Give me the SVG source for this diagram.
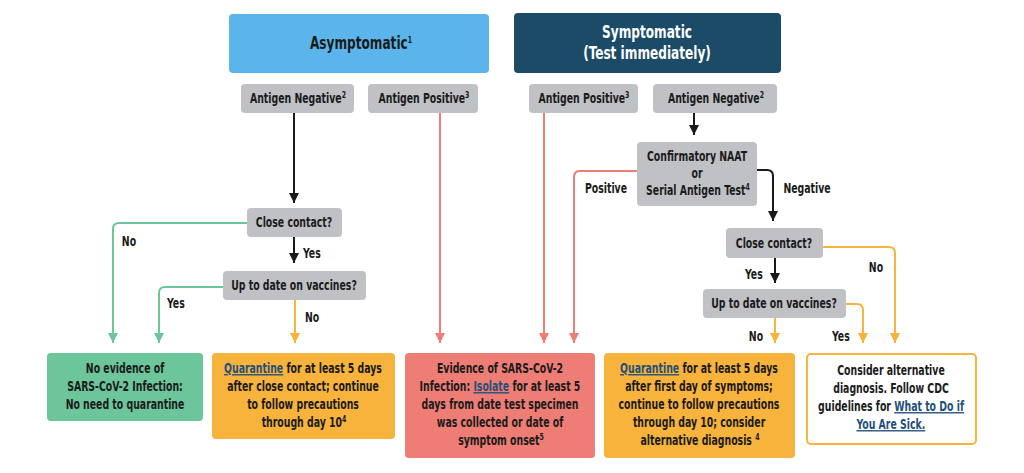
<svg xmlns="http://www.w3.org/2000/svg" width="1024" height="473" viewBox="0 0 1024 473">
<defs>
<style>
text{font-family:"Liberation Sans Narrow","DejaVu Sans Condensed","Liberation Sans",sans-serif;font-weight:bold;font-size:13.5px;fill:#1a1a1a;text-anchor:middle;transform-box:fill-box;transform-origin:center;transform:scaleX(0.77)}
.hdr{font-size:17.5px}
.wh{fill:#ffffff}
.sup{font-size:9px}
.lnk{fill:#1f4f7a;text-decoration:underline}
.grey{fill:#bfc1c5}
.c{fill:none;stroke-width:2;stroke-linejoin:round}
.k{stroke:#1a1a1a}
.g{stroke:#6cc59b}
.r{stroke:#ee7d75}
.o{stroke:#f8b33d}
</style>
<marker id="ak" viewBox="0 0 10 10" refX="10" refY="5" markerWidth="5" markerHeight="5" orient="auto" markerUnits="strokeWidth"><path d="M0,0L10,5L0,10z" fill="#1a1a1a"/></marker>
<marker id="ag" viewBox="0 0 10 10" refX="10" refY="5" markerWidth="5" markerHeight="5" orient="auto" markerUnits="strokeWidth"><path d="M0,0L10,5L0,10z" fill="#6cc59b"/></marker>
<marker id="ar" viewBox="0 0 10 10" refX="10" refY="5" markerWidth="5" markerHeight="5" orient="auto" markerUnits="strokeWidth"><path d="M0,0L10,5L0,10z" fill="#ee7d75"/></marker>
<marker id="ao" viewBox="0 0 10 10" refX="10" refY="5" markerWidth="5" markerHeight="5" orient="auto" markerUnits="strokeWidth"><path d="M0,0L10,5L0,10z" fill="#f8b33d"/></marker>
</defs>
<rect width="1024" height="473" fill="#ffffff"/>

<g id="connectors">
<path class="c k" d="M294,113V203" marker-end="url(#ak)"/>
<path class="c k" d="M294,237V263" marker-end="url(#ak)"/>
<path class="c o" d="M295,300V343" marker-end="url(#ao)"/>
<path class="c g" d="M247,223H119Q113,223 113,229V343" marker-end="url(#ag)"/>
<path class="c g" d="M223,287H165Q159,287 159,293V343" marker-end="url(#ag)"/>
<path class="c r" d="M440,113V343" marker-end="url(#ar)"/>
<path class="c r" d="M544,113V343" marker-end="url(#ar)"/>
<path class="c r" d="M637,171H580Q574,171 574,177V343" marker-end="url(#ar)"/>
<path class="c k" d="M694,113V135" marker-end="url(#ak)"/>
<path class="c k" d="M757,170H767Q773,170 773,176V221" marker-end="url(#ak)"/>
<path class="c k" d="M775,258V283" marker-end="url(#ak)"/>
<path class="c o" d="M823,247H889Q895,247 895,253V343" marker-end="url(#ao)"/>
<path class="c o" d="M775,318V343" marker-end="url(#ao)"/>
<path class="c o" d="M846,304H857Q863,304 863,310V343" marker-end="url(#ao)"/>
<text x="129" y="246">No</text>
<text x="176" y="308">Yes</text>
<text x="312" y="258">Yes</text>
<text x="312" y="322">No</text>
<text x="606" y="193">Positive</text>
<text x="807" y="193">Negative</text>
<text x="754" y="279">Yes</text>
<text x="876" y="272">No</text>
<text x="756" y="341">No</text>
<text x="841" y="341">Yes</text>
</g>

<g id="asymptomatic">
<rect x="229" y="14" width="260" height="59" rx="4" fill="#5bb5ea"/>
<text class="hdr" x="361" y="49">Asymptomatic<tspan class="sup" dy="-6">1</tspan></text>
</g>
<g id="symptomatic">
<rect x="514" y="13" width="267" height="60" rx="4" fill="#1b4b66"/>
<text class="hdr wh" x="647" y="38">Symptomatic</text>
<text class="hdr wh" x="647" y="59">(Test immediately)</text>
</g>
<g id="asym-antigen-negative">
<rect class="grey" x="241" y="84" width="113" height="29" rx="4"/>
<text x="298" y="103">Antigen Negative<tspan class="sup" dy="-5">2</tspan></text>
</g>
<g id="asym-antigen-positive">
<rect class="grey" x="368" y="84" width="110" height="29" rx="4"/>
<text x="424" y="103">Antigen Positive<tspan class="sup" dy="-5">3</tspan></text>
</g>
<g id="sym-antigen-positive">
<rect class="grey" x="529" y="84" width="109" height="29" rx="4"/>
<text x="584" y="103">Antigen Positive<tspan class="sup" dy="-5">3</tspan></text>
</g>
<g id="sym-antigen-negative">
<rect class="grey" x="653" y="84" width="124" height="29" rx="4"/>
<text x="716" y="103">Antigen Negative<tspan class="sup" dy="-5">2</tspan></text>
</g>
<g id="asym-close-contact">
<rect class="grey" x="247" y="208" width="95" height="29" rx="4"/>
<text x="294" y="227">Close contact?</text>
</g>
<g id="asym-up-to-date">
<rect class="grey" x="223" y="271" width="143" height="29" rx="4"/>
<text x="294" y="290">Up to date on vaccines?</text>
</g>
<g id="confirmatory">
<rect class="grey" x="637" y="142" width="120" height="64" rx="4"/>
<text x="697" y="161">Confirmatory NAAT</text>
<text x="697" y="178">or</text>
<text x="698" y="195">Serial Antigen Test<tspan class="sup" dy="-5">4</tspan></text>
</g>
<g id="sym-close-contact">
<rect class="grey" x="726" y="228" width="97" height="30" rx="4"/>
<text x="774" y="248">Close contact?</text>
</g>
<g id="sym-up-to-date">
<rect class="grey" x="703" y="289" width="143" height="29" rx="4"/>
<text x="774" y="308">Up to date on vaccines?</text>
</g>
<g id="no-evidence">
<rect x="47" y="353" width="156" height="68" rx="4" fill="#6cc59b"/>
<text x="125" y="373">No evidence of</text>
<text x="125" y="391">SARS-CoV-2 Infection:</text>
<text x="125" y="409">No need to quarantine</text>
</g>
<g id="quarantine-contact">
<rect x="212" y="353" width="183" height="86" rx="4" fill="#f8b33d"/>
<text x="303" y="373"><tspan class="lnk">Quarantine</tspan> for at least 5 days</text>
<text x="303" y="391">after close contact; continue</text>
<text x="303" y="409">to follow precautions</text>
<text x="304" y="427">through day 10<tspan class="sup" dy="-5">4</tspan></text>
</g>
<g id="isolate">
<rect x="405" y="353" width="190" height="105" rx="4" fill="#ee7d75"/>
<text x="500" y="373">Evidence of SARS-CoV-2</text>
<text x="500" y="391">Infection: <tspan class="lnk">Isolate</tspan> for at least 5</text>
<text x="500" y="409">days from date test specimen</text>
<text x="500" y="427">was collected or date of</text>
<text x="501" y="445">symptom onset<tspan class="sup" dy="-5">5</tspan></text>
</g>
<g id="quarantine-symptoms">
<rect x="604" y="353" width="191" height="105" rx="4" fill="#f8b33d"/>
<text x="699" y="373"><tspan class="lnk">Quarantine</tspan> for at least 5 days</text>
<text x="699" y="391">after first day of symptoms;</text>
<text x="699" y="409">continue to follow precautions</text>
<text x="699" y="427">through day 10; consider</text>
<text x="700" y="445">alternative diagnosis <tspan class="sup" dy="-5">4</tspan></text>
</g>
<g id="alternative-diagnosis">
<rect x="807" y="354" width="169" height="90" rx="4" fill="#ffffff" stroke="#f8b33d" stroke-width="2"/>
<text x="891" y="375">Consider alternative</text>
<text x="891" y="393">diagnosis. Follow CDC</text>
<text x="891" y="411">guidelines for <tspan class="lnk">What to Do if</tspan></text>
<text x="891" y="429"><tspan class="lnk">You Are Sick.</tspan></text>
</g>
</svg>
